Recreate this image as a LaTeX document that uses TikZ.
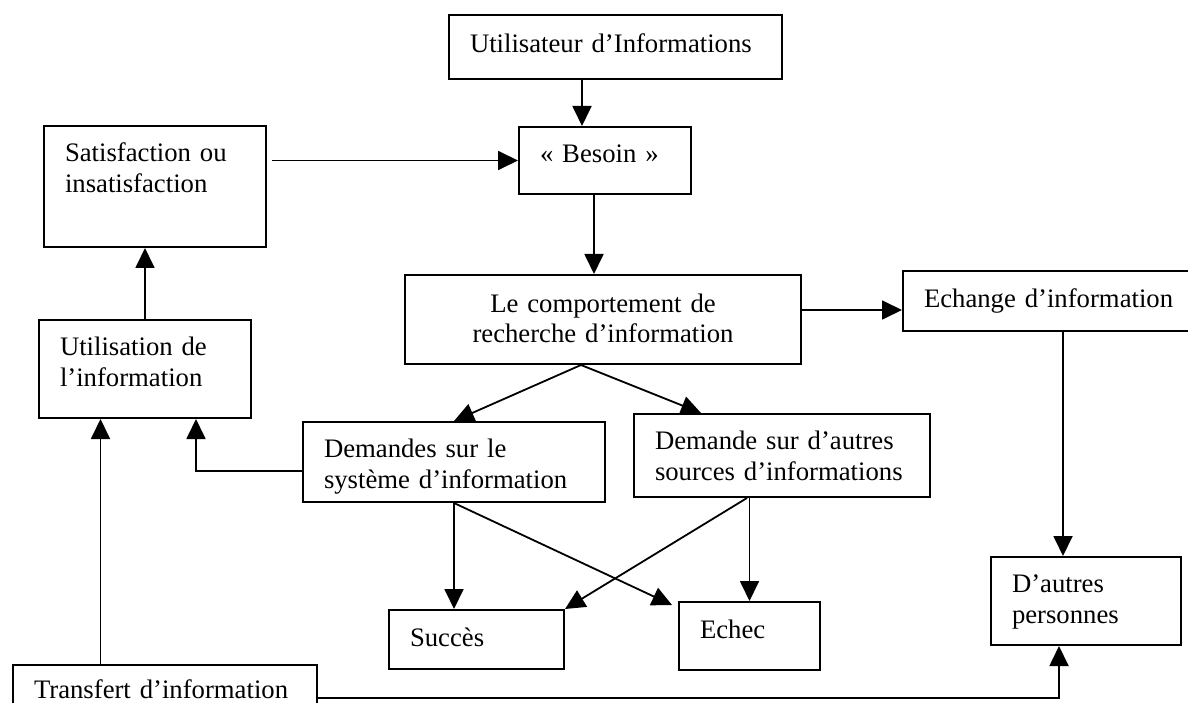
\documentclass[tikz,border=0pt]{standalone}
\usepackage{fontspec}
\setmainfont{Liberation Serif}
\usetikzlibrary{arrows.meta}
\tikzstyle{box} = [draw, line width=2pt, anchor=north west, inner xsep=21pt, inner ysep=0pt, align=left, font=\fontsize{26.7}{31}\selectfont]
\tikzstyle{arrow} = [line width=1.8pt, -{Triangle[length=20pt,width=19pt]}]

\begin{document}
\begin{tikzpicture}[x=1pt, y=-1pt]
        \useasboundingbox (0,0) rectangle (1188,703);

        %top of the chain
        \node at (448,14) [box, text width=291pt, text height=38pt, text depth=26pt] (util) {Utilisateur d’Informations};
        \node at (518,126) [box, text width=130pt, text height=36pt, text depth=31pt] (besoin) {« Besoin »};
        \node at (43,125) [box, text width=180pt, text height=36pt, text depth=85pt] (satis) {Satisfaction ou\\insatisfaction};
        \node at (404,274) [box, align=center, text width=354pt, text height=37pt, text depth=52pt] (comp) {Le comportement de\\recherche d’information};
        \node at (902,270) [box, text width=270pt, text height=36pt, text depth=24pt] (echange) {Echange d’information};
        \node at (38,319) [box, text width=170pt, text height=35pt, text depth=63pt] (utilis) {Utilisation de\\l’information};

        %requests
        \node at (302,421) [box, text width=260pt, text height=35pt, text depth=45pt] (demsys) {Demandes sur le\\système d’information};
        \node at (633,413) [box, text width=254pt, text height=35pt, text depth=48pt] (demaut) {Demande sur d’autres\\sources d’informations};

        %results
        \node at (388,609) [box, text width=133pt, text height=36pt, text depth=23pt] (succes) {Succès};
        \node at (678,601) [box, text width=99pt, text height=36pt, text depth=32pt] (echec) {Echec};
        \node at (990,556) [box, text width=148pt, text height=35pt, text depth=53pt] (dautres) {D’autres\\personnes};
        \node at (12,664) [box, text width=262pt, text height=33pt, text depth=33pt] (transfert) {Transfert d’information};

        %Arrows
        \draw [arrow] ([xshift=-23pt]besoin.north |- util.south) -- ([xshift=-23pt]besoin.north);
        \draw [arrow] ([xshift=5pt]satis.east |- besoin.west) -- (besoin.west);
        \draw [arrow] ([xshift=-11pt]besoin.south) -- ([xshift=-11pt]besoin.south |- comp.north);
        \draw [arrow] (utilis.north) -- (utilis.north |- satis.south);
        \draw [arrow] ([yshift=-9pt]echange.west -| comp.east) -- ([yshift=-9pt]echange.west);
        \draw [arrow] ([xshift=-22pt]comp.south) -- (demsys.north);
        \draw [arrow] ([xshift=-22pt]comp.south) -- ([xshift=-81pt]demaut.north);
        \draw [arrow] ([yshift=-9pt]demsys.west) -| ([xshift=51pt]utilis.south);
        \draw [arrow] ([xshift=-44.5pt]utilis.south |- transfert.north) -- ([xshift=-44.5pt]utilis.south);
        \draw [arrow] (demsys.south) -- (demsys.south |- succes.north);
        \draw [arrow] (demsys.south) -- ([xshift=-6pt,yshift=-4pt]echec.north west);
        \draw [arrow] ([xshift=-35pt]demaut.south) -- (succes.north east);
        \draw [arrow] (echec.north |- demaut.south) -- (echec.north);
        \draw [arrow] ([xshift=-23pt]dautres.north |- echange.south) -- ([xshift=-23pt]dautres.north);
        \draw [arrow] (transfert.east) -| ([xshift=-27pt]dautres.south);

    \end{tikzpicture}
\end{document}
